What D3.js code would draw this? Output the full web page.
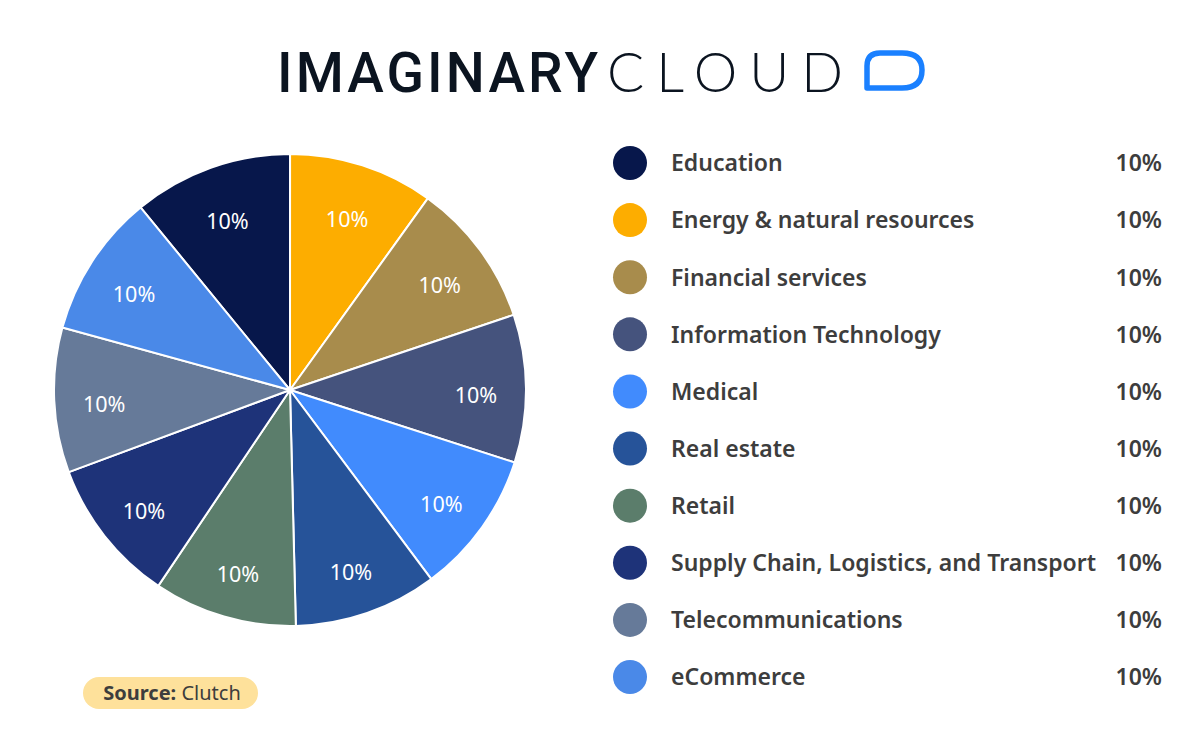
<!DOCTYPE html>
<html><head><meta charset="utf-8">
<script src="https://cdn.jsdelivr.net/npm/d3@7"></script>
<style>html,body{margin:0;padding:0;background:#fff;}svg{display:block;}</style>
</head><body>
<svg id="chart" width="1200" height="735"></svg>
<script>
const categories = ["Education","Energy & natural resources","Financial services","Information Technology","Medical","Real estate","Retail","Supply Chain, Logistics, and Transport","Telecommunications","eCommerce"];
const shares = [10.9, 9.9, 9.9, 10.1, 9.8, 9.8, 9.8, 9.9, 9.9, 9.8];
const shareLabels = ["10%","10%","10%","10%","10%","10%","10%","10%","10%","10%"];
const colors = ["#07174b","#fdad00","#a88c4c","#45537d","#418bfd","#265399","#5b7d6b","#1e3379","#667a99","#4a89e8"];
const sourceText = ["Source:", " Clutch"];
const logoWords = ["IMAGINARY", "CLOUD"];

const svg = d3.select("#chart");
const font = "'Noto Sans', 'Open Sans', sans-serif";

// Logo
const logo = svg.append("g");
function spacedWord(txt, x, family, weight, size, target) {
  const t = logo.append("text").attr("x", x).attr("y", 92)
    .attr("font-family", family).attr("font-weight", weight)
    .attr("font-size", size).attr("fill","#0b1420").text(txt);
  const w = t.node().getComputedTextLength();
  t.attr("letter-spacing", ((target - w) / (txt.length - 1)) + "px");
  return t;
}
spacedWord(logoWords[0], 277, "Roboto, 'Noto Sans', sans-serif", 500, 55, 321);
spacedWord(logoWords[1], 607, "Lato, 'Noto Sans', sans-serif", 300, 55, 236);
logo.append("path")
  .attr("d","M867,88 L867,66 Q867,53 880,53 L902,53 Q922,53 922,70 Q922,88 902,88 Z")
  .attr("fill","none").attr("stroke","#1a80ff").attr("stroke-width",5.5).attr("stroke-linejoin","round");

// Pie
const cx = 290, cy = 390, R = 236;
const a0 = -39.3 * Math.PI / 180;
const pie = d3.pie().sort(null).value(d => d.v).startAngle(a0).endAngle(a0 + 2*Math.PI);
const data = categories.map((c,i)=>({c, v: shares[i], lab: shareLabels[i], col: colors[i]}));
const arcs = pie(data);
const arc = d3.arc().innerRadius(0).outerRadius(R);
const labelArc = d3.arc().innerRadius(186).outerRadius(186);
const g = svg.append("g").attr("transform",`translate(${cx},${cy})`);
g.selectAll("path").data(arcs).join("path")
  .attr("d", arc).attr("fill", d=>d.data.col)
  .attr("stroke","#fff").attr("stroke-width",2).attr("stroke-linejoin","round");
g.selectAll("text").data(arcs).join("text")
  .attr("transform", d=>{ const [x,y] = labelArc.centroid(d); return `translate(${x},${y + 6})`; })
  .attr("text-anchor","middle").attr("dy","0.36em")
  .attr("font-family",font).attr("font-size",21.5).attr("fill","#fff")
  .text(d=>d.data.lab);

// Legend
const ly = d3.scalePoint().domain(categories).range([163, 677]);
const leg = svg.append("g");
const rows = leg.selectAll("g").data(data).join("g")
  .attr("transform", d=>`translate(0,${ly(d.c)})`);
rows.append("circle").attr("cx",630).attr("cy",0).attr("r",17).attr("fill",d=>d.col);
rows.append("text").attr("x",671).attr("y",0).attr("dy","0.36em")
  .attr("font-family",font).attr("font-weight",600).attr("font-size",23).attr("fill","#3d3d3d")
  .text(d=>d.c);
rows.append("text").attr("x",1162).attr("y",0).attr("dy","0.36em").attr("text-anchor","end")
  .attr("font-family",font).attr("font-weight",600).attr("font-size",23).attr("fill","#3d3d3d")
  .text(d=>d.lab);

// Source badge
svg.append("rect").attr("x",83).attr("y",677).attr("width",175).attr("height",32).attr("rx",16)
  .attr("fill","#fee19b");
const st = svg.append("text").attr("x",172).attr("y",693).attr("dy","0.36em").attr("text-anchor","middle")
  .attr("font-family",font).attr("font-size",20).attr("fill","#3d3d3d");
st.append("tspan").attr("font-weight",700).text(sourceText[0]);
st.append("tspan").attr("font-weight",400).text(sourceText[1]);
</script>
</body></html>
